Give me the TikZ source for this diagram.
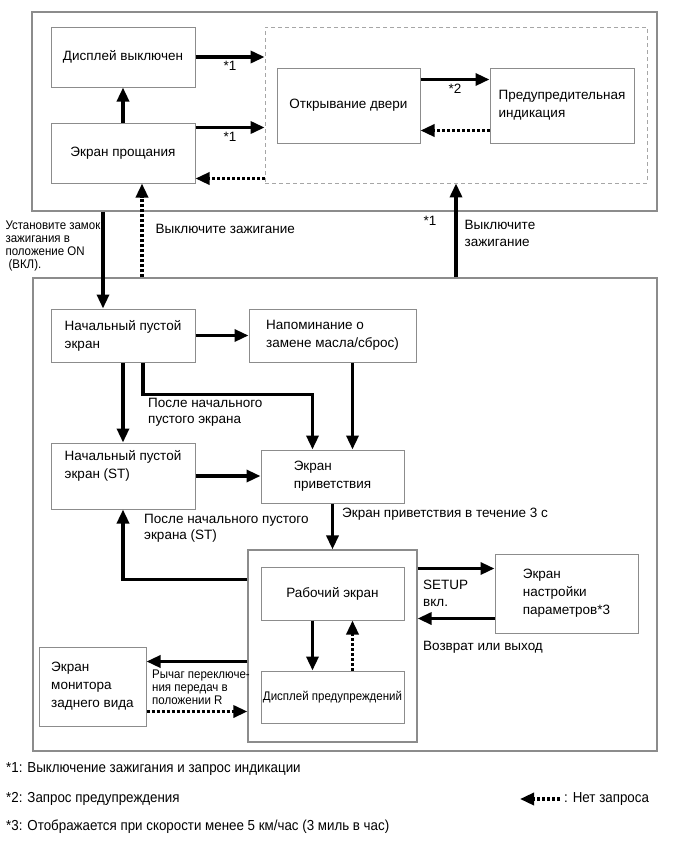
\documentclass[tikz,border=0pt]{standalone}
\usepackage{fontspec}
\setmainfont{Liberation Sans}
\newfontfamily\narrowfont[FakeStretch=0.92]{Liberation Sans}
\usetikzlibrary{arrows.meta}

\begin{document}
\begin{tikzpicture}[x=1pt,y=-1pt,
  box/.style={draw=black!45, line width=1pt, inner sep=0pt, align=left, font=\fontsize{13.5}{18}\selectfont},
  zone/.style={draw=black!45, line width=1.2pt, inner sep=0pt},
  go/.style={line width=3.3pt, -{Triangle[length=14pt,width=12pt]}},
  nogo/.style={go, dash pattern=on 3pt off 2pt},
  lbl/.style={font=\fontsize{13.5}{16.5}\selectfont, align=left, inner sep=0pt},
  small/.style={font=\narrowfont\fontsize{12.5}{13}\selectfont, align=left, inner sep=0pt},
  note/.style={font=\narrowfont\fontsize{14.5}{16}\selectfont, anchor=west, inner sep=0pt}]
\useasboundingbox (0,0) rectangle (690,855);

% zones
\node[zone, minimum width=625pt, minimum height=199pt] (offzone) at (344.5,111.5) {};
\node[zone, draw=black!35, line width=0.8pt, dash pattern=on 4pt off 3pt, minimum width=382pt, minimum height=156pt] (doorzone) at (456,105) {};
\node[zone, minimum width=624pt, minimum height=473pt] (onzone) at (345,514.5) {};
\node[zone, minimum width=169pt, minimum height=192pt] (workzone) at (332.5,646) {};

% screens, ignition off
\node[box, minimum width=144pt, minimum height=60pt] (off) at (123,57) {Дисплей выключен};
\node[box, minimum width=144pt, minimum height=60pt] (bye) at (123,153) {Экран прощания};
\node[box, minimum width=143pt, minimum height=75pt] (door) at (348.5,105.5) {Открывание двери};
\node[box, minimum width=144pt, minimum height=75pt] (warnind) at (562,105.5) {Предупредительная\\индикация};

% screens, ignition on
\node[box, minimum width=144pt, minimum height=53pt] (blank) at (123,335.5) {Начальный пустой\\экран};
\node[box, minimum width=167pt, minimum height=53pt] (oil) at (332.5,335.5) {Напоминание о\\замене масла/сброс)};
\node[box, minimum width=144pt, minimum height=66pt] (blankst) at (123,476) {Начальный пустой\\экран (ST)\\[6pt]};
\node[box, minimum width=143pt, minimum height=53pt] (welcome) at (332.5,476.5) {Экран\\приветствия};
\node[box, minimum width=143pt, minimum height=53pt] (work) at (332.5,593.5) {Рабочий экран};
\node[box, minimum width=143pt, minimum height=52pt, font=\narrowfont\fontsize{12.5}{14}\selectfont] (warndisp) at (332.5,697) {Дисплей предупреждений};
\node[box, minimum width=107pt, minimum height=79pt] (rear) at (92.5,686.5) {Экран\\монитора\\заднего вида};
\node[box, minimum width=143pt, minimum height=79pt] (setup) at (566.5,593.5) {Экран\\настройки\\параметров*3};

% arrows, top
\draw[go] (off.east) -- (off.east -| doorzone.west) node[midway, below=3pt, lbl] {*1};
\draw[go] ([yshift=-5pt]bye.north east) -- ([yshift=-5pt]bye.north east -| doorzone.west) node[midway, below=3pt, lbl] {*1};
\draw[nogo] ([yshift=5pt]bye.south east -| doorzone.west) -- ([yshift=5pt]bye.south east);
\draw[go] (bye.north) -- (off.south);
\draw[go] ([yshift=-12pt]door.north east) -- ([yshift=-12pt]door.north east -| warnind.west) node[midway, below=3pt, lbl] {*2};
\draw[nogo] ([yshift=13pt]door.south east -| warnind.west) -- ([yshift=13pt]door.south east);

% arrows between zones
\draw[go] ([xshift=-20pt]blank.north |- offzone.south) -- ([xshift=-20pt]blank.north)
  node[pos=0.35, left=1pt, small] {Установите замок\\зажигания в\\положение ON\\\hspace*{3pt}(ВКЛ).};
\draw[nogo] ([xshift=19pt]bye.south |- onzone.north) -- ([xshift=19pt]bye.south)
  node[pos=0.52, right=12pt, lbl] {Выключите зажигание};
\draw[go] (onzone.north -| doorzone.south) -- (doorzone.south)
  node[pos=0.6, left=18pt, lbl] {*1}
  node[pos=0.47, right=7pt, lbl] {Выключите\\зажигание};

% arrows, bottom
\draw[go] (blank.east) -- (oil.west);
\draw[go] (blank.south) -- (blankst.north);
\draw[go] ([xshift=20pt]blank.south) -- ++(0,32) -| ([xshift=-20pt]welcome.north);
\node[lbl, anchor=north west] at (148,398) {После начального\\пустого экрана};
\draw[go] ([xshift=20pt]oil.south) -- ([xshift=20pt]oil.south |- welcome.north);
\draw[go] (blankst.east) -- (blankst.east -| welcome.west);
\draw[go] (welcome.south) -- (workzone.north)
  node[pos=0.23, right=8pt, lbl] {Экран приветствия в течение 3 с};
\draw[go] ([yshift=-30pt]workzone.north west) -| (blankst.south);
\node[lbl, anchor=north west] at (144,514) {После начального пустого\\экрана (ST)};
\draw[go] ([xshift=-20pt]work.south) -- ([xshift=-20pt]warndisp.north);
\draw[nogo] ([xshift=20pt]warndisp.north) -- ([xshift=20pt]work.south);
\draw[go] ([yshift=-15pt]rear.north east -| workzone.west) -- ([yshift=-15pt]rear.north east);
\draw[nogo] ([yshift=15pt]rear.south east) -- ([yshift=15pt]rear.south east -| workzone.west);
\node[small, anchor=north west] at (152,670) {Рычаг переключе-\\ния передач в\\положении R};
\draw[go] ([yshift=-15pt]setup.north west -| workzone.east) -- ([yshift=-15pt]setup.north west);
\draw[go] ([yshift=15pt]setup.south west) -- ([yshift=15pt]setup.south west -| workzone.east);
\node[lbl, anchor=north west] at (423,580) {SETUP\\вкл.};
\node[lbl, anchor=west] at (423,647) {Возврат или выход};

% notes
\node[note] at (6,769) {*1: Выключение зажигания и запрос индикации};
\node[note] at (6,799) {*2: Запрос предупреждения};
\node[note] at (6,827) {*3: Отображается при скорости менее 5 км/час (3 миль в час)};
\coordinate (keyend) at (520,799);
\coordinate (keystart) at (560,799);
\draw[nogo] (keystart) -- (keyend);
\node[note] (key) at (564,799) {: Нет запроса};
\end{tikzpicture}
\end{document}
